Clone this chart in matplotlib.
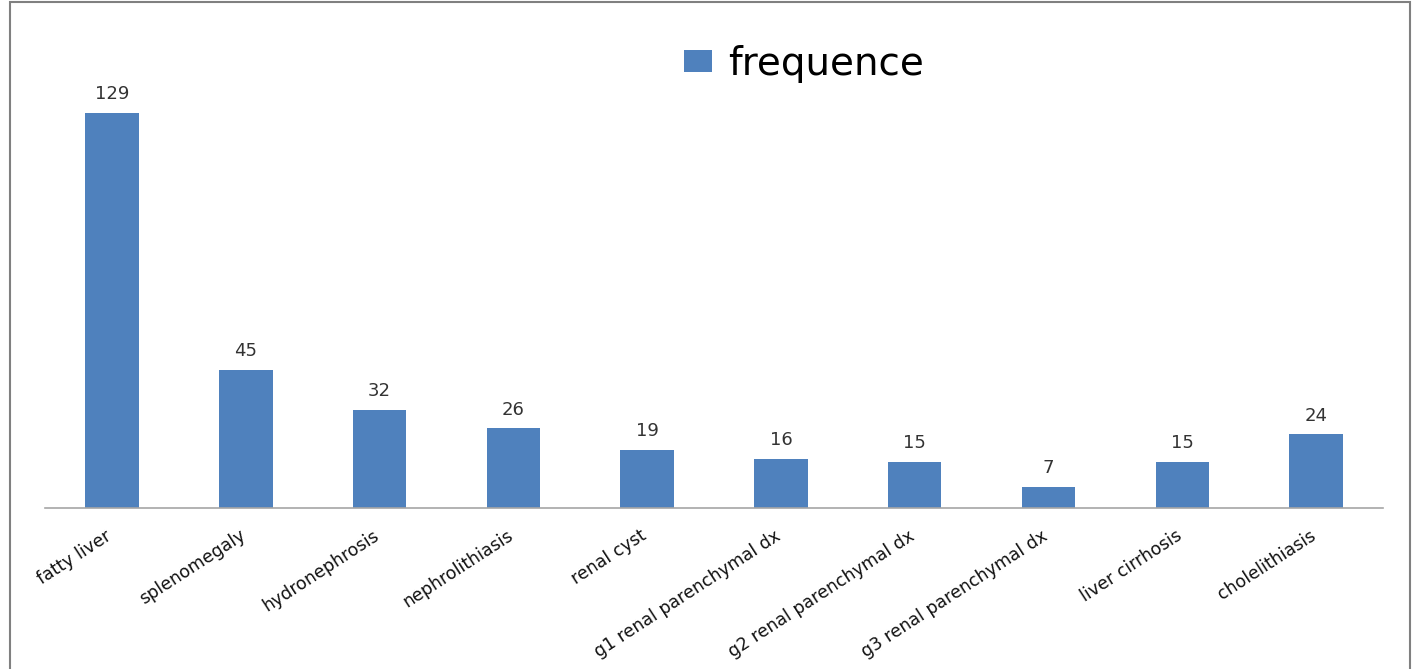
import matplotlib
matplotlib.use("Agg")
import matplotlib.pyplot as plt
from matplotlib.patches import Rectangle
from matplotlib.transforms import ScaledTranslation

categories = ["fatty liver", "splenomegaly", "hydronephrosis", "nephrolithiasis",
              "renal cyst", "g1 renal parenchymal dx", "g2 renal parenchymal dx",
              "g3 renal parenchymal dx", "liver cirrhosis", "cholelithiasis"]
values = [129, 45, 32, 26, 19, 16, 15, 7, 15, 24]
series_name = "frequence"

plt.rcParams['font.family'] = ['DejaVu Sans']

fig = plt.figure(figsize=(14.17, 6.69), dpi=100)
ax = fig.add_axes([0.0318, 0.2407, 0.976 - 0.0318, 0.8819 - 0.2407])

color = "#4F81BD"
x = list(range(len(categories)))
bars = ax.bar(x, values, width=0.4, color=color, label=series_name)
for xi, v in zip(x, values):
    ax.annotate(str(v), (xi, v), xytext=(0, 7), textcoords="offset points",
                ha="center", va="bottom", fontsize=13, color="#333333")

ax.set_xlim(-0.5, len(categories) - 0.5)
ax.set_ylim(0, 140)
ax.set_yticks([])
ax.set_xticks(x)
ax.set_xticklabels(categories, rotation=33, ha="right", va="top",
                   rotation_mode="anchor", fontsize=12.5, color="#111111")
ax.tick_params(axis="x", length=0, pad=12)
offset = ScaledTranslation(-7 / 100, -2 / 100, fig.dpi_scale_trans)
for lab in ax.get_xticklabels():
    lab.set_transform(lab.get_transform() + offset)
for s in ["top", "right", "left"]:
    ax.spines[s].set_visible(False)
ax.spines["bottom"].set_color("#A6A6A6")
ax.spines["bottom"].set_linewidth(1.2)

fig.legend(handles=[bars], labels=[series_name], loc="center left",
           bbox_to_anchor=(0.458, 0.905), frameon=False, fontsize=28,
           handlelength=0.72, handleheight=0.48, handletextpad=0.42)

W, H = 1417, 669
fig.patches.append(Rectangle((10 / W, -0.02), (1410 - 10) / W, 1.02 - 2 / H,
                             transform=fig.transFigure, fill=False,
                             edgecolor="#808080", linewidth=1.5))

fig.savefig("out.png", dpi=100)
